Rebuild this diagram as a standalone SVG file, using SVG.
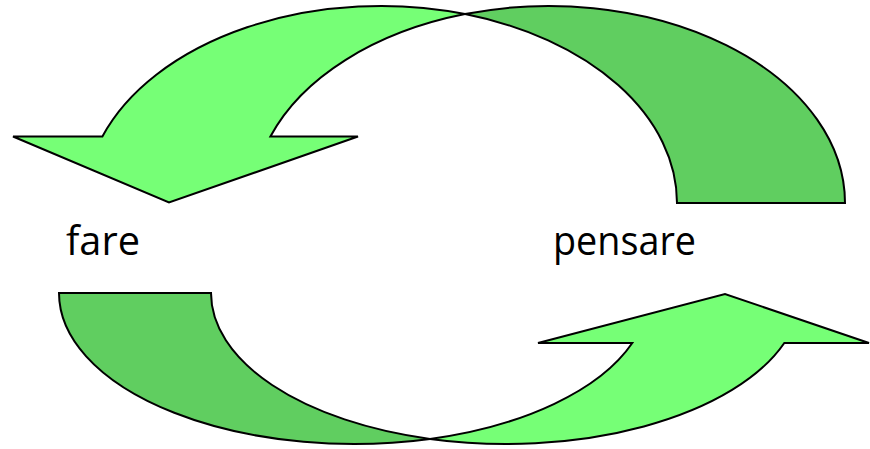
<svg xmlns="http://www.w3.org/2000/svg" width="870" height="449" viewBox="0 0 870 449">
  <style>
    .light { fill: #76FF76; stroke: #000; stroke-width: 2; stroke-linejoin: miter; }
    .dark { fill: #60CE60; stroke: #000; stroke-width: 2; stroke-linejoin: miter; }
    .label { font-family: "Open Sans", "Liberation Sans", sans-serif; font-size: 41px; fill: #000; }
  </style>
  <rect width="870" height="449" fill="#fff"/>
  <g id="connectors">
    <g id="top-arrow">
      <path class="dark" d="M 465,14.1 A 296 197 0 0 1 845,203 L 677,203 A 296 197 0 0 0 465,14.1 Z"/>
      <path class="light" d="M 465,14.1 A 296 197 0 0 0 102.4,136.5 L 13,136.5 L 169,202.5 L 358,136.5 L 270.4,136.5 A 296 197 0 0 1 465,14.1 Z"/>
    </g>
    <g id="bottom-arrow">
      <path class="dark" d="M 59,293 L 211,293 A 295 151 0 0 0 430,438.9 A 295 151 0 0 1 59,293 Z"/>
      <path class="light" d="M 430,438.9 A 295 151 0 0 0 632.3,343 L 538,343 L 725,294 L 869,343 L 784.3,343 A 295 151 0 0 1 430,438.9 Z"/>
    </g>
  </g>
  <g id="node-fare">
    <text class="label" x="66" y="255" textLength="74" lengthAdjust="spacingAndGlyphs">fare</text>
  </g>
  <g id="node-pensare">
    <text class="label" x="553" y="255" textLength="143" lengthAdjust="spacingAndGlyphs">pensare</text>
  </g>
</svg>
